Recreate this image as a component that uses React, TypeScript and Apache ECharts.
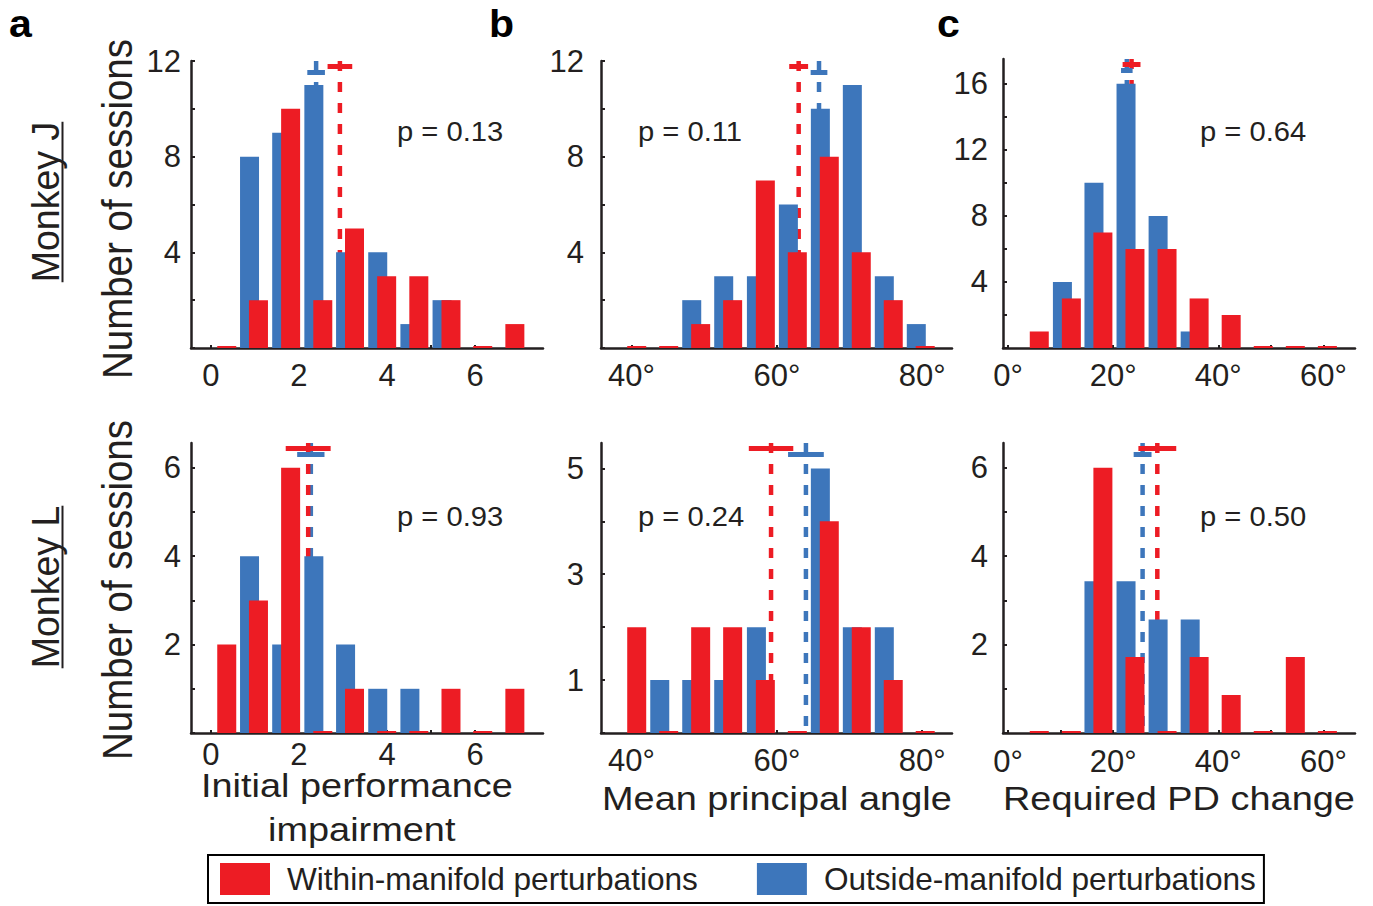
import React, { useEffect, useRef } from 'react';
import * as echarts from 'echarts';

// ---------- colours & fonts ----------
const RED = '#ED1C24';
const BLUE = '#3D76BB';
const INK = '#231F20';
const FONT = '"Liberation Sans", Arial, Helvetica, sans-serif';

const WITHIN = 'Within-manifold perturbations';
const OUTSIDE = 'Outside-manifold perturbations';

// ---------- histogram bin centres ----------
const impairmentBins = [0.26, 0.98, 1.71, 2.44, 3.16, 3.89, 4.62, 5.35, 6.07, 6.8];
const angleBins = [40.1, 44.5, 48.9, 53.3, 57.8, 62.2, 66.6, 71.0, 75.4, 79.8];
const pdBins = [5.1, 11.2, 17.2, 23.3, 29.4, 35.5, 41.6, 47.7, 53.8, 59.9];

// ---------- counts (null = no bar drawn) ----------
const jImpairmentWithin = [0, 2, 10, 2, 5, 3, 3, 2, 0, 1];
const jImpairmentOutside = [null, 8, 9, 11, 4, 4, 1, 2, null, null];
const jAngleWithin = [0, 0, 1, 2, 7, 4, 8, 4, 2, 0];
const jAngleOutside = [null, null, 2, 3, 3, 6, 10, 11, 3, 1];
const jPdWithin = [1, 3, 7, 6, 6, 3, 2, 0, 0, 0];
const jPdOutside = [null, 4, 10, 16, 8, 1, null, null, null, null];
const lImpairmentWithin = [2, 3, 6, 0, 1, 0, 0, 1, 0, 1];
const lImpairmentOutside = [null, 4, 2, 4, 2, 1, 1, null, null, null];
const lAngleWithin = [2, 0, 2, 2, 1, 0, 4, 2, 1, 0];
const lAngleOutside = [null, 1, 1, 1, 2, null, 5, 2, 2, null];
const lPdWithin = [0, 0, 6.0, 1.72, 0, 1.72, 0.86, 0, 1.72, 0];
const lPdOutside = [null, null, 3.43, 3.43, 2.57, 2.57, null, null, null, null];

// ---------- means ± s.e.m. (panel order a, b, c, d, e, f) ----------
const meanWithin = [2.93, 63.0, 23.5, 2.21, 59.2, 28.4];
const semWithin = [0.28, 1.3, 1.7, 0.51, 3.06, 3.6];
const meanOutside = [2.39, 65.8, 22.6, 2.27, 64.0, 25.6];
const semOutside = [0.2, 1.15, 1.1, 0.31, 2.46, 1.7];
const pValues = ['0.13', '0.11', '0.64', '0.93', '0.24', '0.50'];

// ---------- ticks ----------
const impairmentTicks = [0, 1, 2, 3, 4, 5, 6, 7];
const impairmentLabels = [0, 2, 4, 6];
const angleTicks = [40, 50, 60, 70, 80];
const angleLabels = [40, 60, 80];
const pdTicks = [0, 10, 20, 30, 40, 50, 60];
const pdLabels = [0, 20, 40, 60];
const jCountTicks = [0, 2, 4, 6, 8, 10, 12];
const jCountLabels = [4, 8, 12];
const jPdCountTicks = [0, 2, 4, 6, 8, 10, 12, 14, 16];
const jPdCountLabels = [4, 8, 12, 16];
const lCountTicks = [0, 1, 2, 3, 4, 5, 6];
const lCountLabels = [2, 4, 6];
const lAngleCountTicks = [0, 1, 2, 3, 4, 5];
const lAngleCountLabels = [1, 3, 5];

const plain = (v: number) => String(v);
const deg = (v: number) => v + '°';

type Panel = {
  grid: { left: number; top: number; width: number; height: number };
  xMin: number; xMax: number; yMax: number;
  bins: number[]; within: (number | null)[]; outside: (number | null)[];
  xTicks: number[]; xLabels: number[]; fmt: (v: number) => string;
  yTicks: number[]; yLabels: number[];
  yMargin: number; xMargin: number;
  pPos: [number, number];
};

const panels: Panel[] = [
  {
    grid: { left: 191, top: 61, width: 352, height: 287 }, xMin: -0.45, xMax: 7.54, yMax: 12,
    bins: impairmentBins, within: jImpairmentWithin, outside: jImpairmentOutside,
    xTicks: impairmentTicks, xLabels: impairmentLabels, fmt: plain,
    yTicks: jCountTicks, yLabels: jCountLabels, yMargin: 10, xMargin: 12, pPos: [397, 132],
  },
  {
    grid: { left: 601, top: 61, width: 351, height: 287 }, xMin: 35.8, xMax: 84.1, yMax: 12,
    bins: angleBins, within: jAngleWithin, outside: jAngleOutside,
    xTicks: angleTicks, xLabels: angleLabels, fmt: deg,
    yTicks: jCountTicks, yLabels: jCountLabels, yMargin: 17, xMargin: 12, pPos: [638, 132],
  },
  {
    grid: { left: 1003, top: 59, width: 352, height: 289 }, xMin: -0.95, xMax: 66, yMax: 17.5,
    bins: pdBins, within: jPdWithin, outside: jPdOutside,
    xTicks: pdTicks, xLabels: pdLabels, fmt: deg,
    yTicks: jPdCountTicks, yLabels: jPdCountLabels, yMargin: 15, xMargin: 12, pPos: [1200, 132],
  },
  {
    grid: { left: 191, top: 443, width: 352, height: 290 }, xMin: -0.45, xMax: 7.54, yMax: 6.56,
    bins: impairmentBins, within: lImpairmentWithin, outside: lImpairmentOutside,
    xTicks: impairmentTicks, xLabels: impairmentLabels, fmt: plain,
    yTicks: lCountTicks, yLabels: lCountLabels, yMargin: 10, xMargin: 6, pPos: [397, 517],
  },
  {
    grid: { left: 601, top: 443, width: 351, height: 290 }, xMin: 35.8, xMax: 84.1, yMax: 5.48,
    bins: angleBins, within: lAngleWithin, outside: lAngleOutside,
    xTicks: angleTicks, xLabels: angleLabels, fmt: deg,
    yTicks: lAngleCountTicks, yLabels: lAngleCountLabels, yMargin: 17, xMargin: 12, pPos: [638, 517],
  },
  {
    grid: { left: 1003, top: 443, width: 352, height: 290 }, xMin: -0.95, xMax: 66, yMax: 6.56,
    bins: pdBins, within: lPdWithin, outside: lPdOutside,
    xTicks: pdTicks, xLabels: pdLabels, fmt: deg,
    yTicks: lCountTicks, yLabels: lCountLabels, yMargin: 15, xMargin: 13, pPos: [1200, 517],
  },
];

function measure(text: string, font: string): number {
  const ctx = document.createElement('canvas').getContext('2d');
  if (!ctx) return text.length * 18;
  ctx.font = font;
  return ctx.measureText(text).width;
}

function buildOption() {
  const grid: any[] = [];
  const xAxis: any[] = [];
  const yAxis: any[] = [];
  const series: any[] = [];
  const graphic: any[] = [];

  panels.forEach((p, i) => {
    grid.push({ ...p.grid, containLabel: false, outerBoundsMode: 'none' });
    xAxis.push({
      type: 'value', gridIndex: i, min: p.xMin, max: p.xMax,
      axisLine: { show: true, onZero: false, lineStyle: { color: INK, width: 2.5 } },
      axisTick: { show: true, inside: true, length: 3, lineStyle: { color: INK, width: 2 }, customValues: p.xTicks },
      axisLabel: {
        show: true, customValues: p.xLabels, formatter: (v: number) => p.fmt(v),
        margin: p.xMargin, fontSize: 31, fontFamily: FONT, color: INK,
      },
      splitLine: { show: false },
    });
    yAxis.push({
      type: 'value', gridIndex: i, min: 0, max: p.yMax,
      axisLine: { show: true, onZero: false, lineStyle: { color: INK, width: 2.5 } },
      axisTick: { show: true, inside: true, length: 4, lineStyle: { color: INK, width: 2 }, customValues: p.yTicks },
      axisLabel: {
        show: true, customValues: p.yLabels, margin: p.yMargin,
        fontSize: 31, fontFamily: FONT, color: INK,
      },
      splitLine: { show: false },
    });

    const perPx = p.yMax / p.grid.height;
    const common = { xAxisIndex: i, yAxisIndex: i, silent: true };
    // dashed mean lines (behind bars)
    series.push({
      ...common, type: 'line', symbol: 'none', z: 1,
      data: [[meanOutside[i], p.yMax], [meanOutside[i], 0]],
      lineStyle: { color: BLUE, width: 4.5, type: [10, 11] },
    });
    series.push({
      ...common, type: 'line', symbol: 'none', z: 1,
      data: [[meanWithin[i], p.yMax], [meanWithin[i], 0]],
      lineStyle: { color: RED, width: 4.5, type: [10, 11] },
    });
    // bars
    series.push({
      ...common, type: 'bar', name: OUTSIDE, z: 2,
      barWidth: 19, barGap: '-53%',
      itemStyle: { color: BLUE },
      data: p.bins.map((b, k) => [b, p.outside[k]]).filter((d) => d[1] !== null),
    });
    series.push({
      ...common, type: 'bar', name: WITHIN, z: 2,
      barWidth: 19, barGap: '-53%', barMinHeight: 2,
      itemStyle: { color: RED },
      data: p.bins.map((b, k) => [b, p.within[k]]),
    });
    // s.e.m. bars at the top
    const yBlue = p.yMax - 11.5 * perPx;
    const yRed = p.yMax - 5.5 * perPx;
    series.push({
      ...common, type: 'line', symbol: 'none', z: 3,
      data: [[meanOutside[i] - semOutside[i], yBlue], [meanOutside[i] + semOutside[i], yBlue]],
      lineStyle: { color: BLUE, width: 5, type: 'solid' },
    });
    series.push({
      ...common, type: 'line', symbol: 'none', z: 3,
      data: [[meanWithin[i] - semWithin[i], yRed], [meanWithin[i] + semWithin[i], yRed]],
      lineStyle: { color: RED, width: 5, type: 'solid' },
    });

    graphic.push({
      type: 'text', x: p.pPos[0], y: p.pPos[1], scaleX: 1.08,
      style: { text: 'p = ' + pValues[i], fontSize: 27, fontFamily: FONT, fill: INK, align: 'left', verticalAlign: 'middle' },
    });
  });

  // panel letters
  [['a', 9], ['b', 489], ['c', 937]].forEach(([t, x]) => {
    graphic.push({
      type: 'text', x: x as number, y: 24, scaleX: 1.08,
      style: { text: t as string, fontSize: 38, fontWeight: 'bold', fontFamily: FONT, fill: '#000', align: 'left', verticalAlign: 'middle' },
    });
  });

  // row labels
  const rowFont = `37.5px ${FONT}`;
  [['Monkey J', 202], ['Monkey L', 587]].forEach(([t, cy]) => {
    const w = measure(t as string, rowFont);
    graphic.push({
      type: 'text', x: 45, y: cy as number, rotation: Math.PI / 2, scaleY: 1.05,
      style: { text: t as string, fontSize: 37.5, fontFamily: FONT, fill: INK, align: 'center', verticalAlign: 'middle' },
    });
    graphic.push({
      type: 'line', shape: { x1: 62.5, y1: (cy as number) - w / 2, x2: 62.5, y2: (cy as number) + w / 2 },
      style: { stroke: INK, lineWidth: 2 },
    });
  });
  [209, 590].forEach((cy) => {
    graphic.push({
      type: 'text', x: 117, y: cy, rotation: Math.PI / 2, scaleY: 1.08,
      style: { text: 'Number of sessions', fontSize: 38.5, fontFamily: FONT, fill: INK, align: 'center', verticalAlign: 'middle' },
    });
  });

  // x axis names
  const names: [string, number, number][] = [
    ['Initial performance', 201, 785],
    ['impairment', 268, 829],
    ['Mean principal angle', 602, 798],
    ['Required PD change', 1003, 798],
  ];
  names.forEach(([t, x, y]) => {
    graphic.push({
      type: 'text', x, y, scaleX: 1.115,
      style: { text: t, fontSize: 34, fontFamily: FONT, fill: INK, align: 'left', verticalAlign: 'middle' },
    });
  });

  return {
    animation: false,
    backgroundColor: '#ffffff',
    grid,
    xAxis,
    yAxis,
    series,
    graphic,
    legend: {
      data: [WITHIN, OUTSIDE],
      left: 208, top: 855, orient: 'horizontal',
      icon: 'rect', itemWidth: 50, itemHeight: 32, itemGap: 59,
      padding: [8, 8, 8, 12],
      borderColor: '#000', borderWidth: 2,
      selectedMode: false,
      textStyle: { fontSize: 31.6, fontFamily: FONT, color: INK, padding: [0, 0, 0, 12] },
    },
  };
}

export default function App() {
  const ref = useRef<HTMLDivElement>(null);
  useEffect(() => {
    if (!ref.current) return;
    const chart = echarts.init(ref.current, undefined, { renderer: 'svg' });
    chart.setOption(buildOption() as any);
    return () => chart.dispose();
  }, []);
  return (
    <div
      ref={ref}
      style={{ position: 'absolute', left: 0, top: 0, width: 1373, height: 906, background: '#fff' }}
    />
  );
}
